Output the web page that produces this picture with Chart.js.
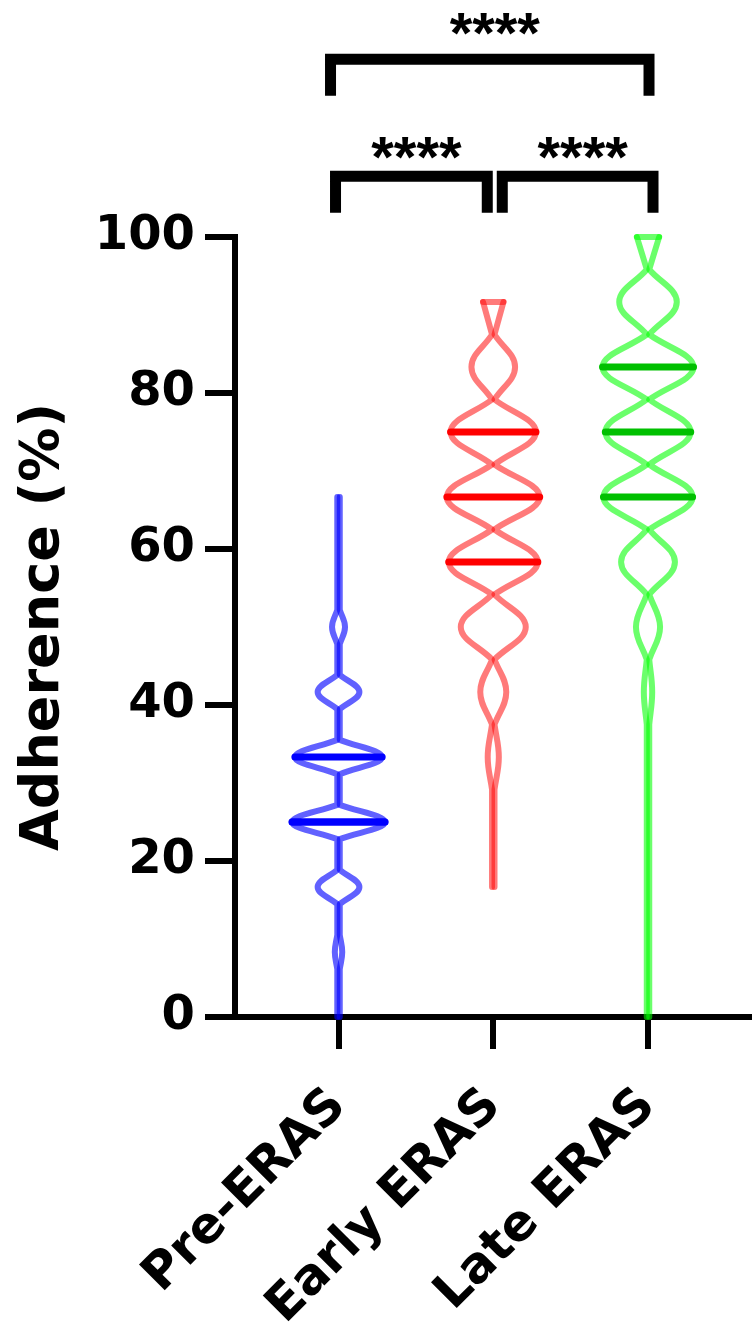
<!DOCTYPE html>
<html>
<head>
<meta charset="utf-8">
<title>Adherence violin plot</title>
<script src="https://cdn.jsdelivr.net/npm/chart.js@4"></script>
<style>
  html, body { margin: 0; padding: 0; background: #fff; }
  #wrap { width: 752px; height: 1332px; position: relative; }
</style>
</head>
<body>
<div id="wrap"><canvas id="violin"></canvas></div>
<script>
// groups on the x axis
const categories = ["Pre-ERAS", "Early ERAS", "Late ERAS"];

// adherence levels (%) where the violins have a lobe
const levels = [0, 8.33, 16.67, 25, 33.33, 41.67, 50, 58.33, 66.67, 75, 83.33, 91.67, 100];

// relative violin width at each level (1 = widest), null = outside the group's range
const preERAS   = [0, 0.08, 0.45, 1.0, 0.94, 0.45, 0.14, 0, 0, null, null, null, null];
const earlyERAS = [null, null, 0, 0.01, 0.12, 0.28, 0.70, 0.96, 1.0, 0.92, 0.47, 0.22, null];
const lateERAS  = [0, 0, 0, 0, 0, 0.09, 0.26, 0.58, 0.96, 0.92, 0.98, 0.62, 0.24];

// quartiles drawn across each violin
const q1Values     = [25, 58.33, 66.67];
const medianValues = [25, 66.67, 75];
const q3Values     = [33.33, 75, 83.33];

const yTicks = [0, 20, 40, 60, 80, 100];

// significance brackets between groups
const comparisons = [[0, 1], [1, 2], [0, 2]];
const stars = ["****", "****", "****"];
const bracketLevels = [107.8, 107.8, 122.8];
const starLevels = [112.1, 112.1, 127.9];

const groups = [preERAS, earlyERAS, lateERAS];
const outlineColors = ["rgba(0,0,255,0.62)", "rgba(255,0,0,0.52)", "rgba(0,255,0,0.58)"];
const lineColors = ["#0000ff", "#ff0000", "#00c000"];
const lobeSpan = [2.2, 4.17, 4.17];   // half height of a lobe, in %

const maxHalf = 0.3;     // half width of the widest lobe, in x units
const minHalf = 0.008;   // stem half width

Chart.defaults.font.family = "'DejaVu Sans', sans-serif";
Chart.defaults.font.weight = "bold";
Chart.defaults.color = "#000";

function halfWidth(dens, i) {
    return Math.max(dens[i] * maxHalf, minHalf);
}

// one side of a violin: lobes at the levels, pinched (doubled point -> cusp) in between
function outline(gi, side) {
    const dens = groups[gi];
    const h = lobeSpan[gi];
    const pts = [];
    const stem = gi + side * minHalf;
    let prev = null;
    levels.forEach((lv, i) => {
        if (dens[i] === null) return;
        if (prev !== null) {
            const lo = Math.min(levels[prev] + h, (levels[prev] + lv) / 2);
            const hi = Math.max(lv - h, (levels[prev] + lv) / 2);
            pts.push({ x: stem, y: lo }, { x: stem, y: lo });
            if (hi > lo) pts.push({ x: stem, y: hi }, { x: stem, y: hi });
        }
        pts.push({ x: gi + side * halfWidth(dens, i), y: lv });
        prev = i;
    });
    return pts;
}

const datasets = [];

groups.forEach((dens, gi) => {
    // quartile lines on top
    [q1Values, medianValues, q3Values].forEach(arr => {
        const v = arr[gi];
        const i = levels.findIndex(l => Math.abs(l - v) < 0.1);
        const w = halfWidth(dens, i);
        datasets.push({
            data: [{ x: gi - w, y: v }, { x: gi + w, y: v }],
            borderColor: lineColors[gi],
            borderWidth: 7,
            borderCapStyle: "round",
            order: 0
        });
    });

    [1, -1].forEach(side => {
        datasets.push({
            data: outline(gi, side),
            borderColor: outlineColors[gi],
            borderWidth: 6,
            borderCapStyle: "round",
            borderJoinStyle: "round",
            tension: 0.4,
            order: 1
        });
    });

    // flat end where the range cuts a lobe
    const used = levels.map((l, i) => i).filter(i => dens[i] !== null);
    [used[0], used[used.length - 1]].forEach(i => {
        if (dens[i] > 0) {
            const w = halfWidth(dens, i);
            datasets.push({
                data: [{ x: gi - w, y: levels[i] }, { x: gi + w, y: levels[i] }],
                borderColor: outlineColors[gi],
                borderWidth: 6,
                borderCapStyle: "round",
                order: 1
            });
        }
    });
});

datasets.forEach(ds => {
    ds.pointRadius = 0;
    ds.fill = false;
    ds.clip = false;
});

const bracketPlugin = {
    id: "brackets",
    afterDraw(chart) {
        const { ctx, scales: { x, y } } = chart;
        const nudge = [[-3, -6], [9, 5], [-8, 1]];
        ctx.save();
        ctx.strokeStyle = "#000";
        ctx.fillStyle = "#000";
        ctx.lineWidth = 11;
        ctx.lineJoin = "miter";
        ctx.lineCap = "butt";
        ctx.font = "bold 58px 'Liberation Sans'";
        ctx.textAlign = "center";
        ctx.textBaseline = "alphabetic";
        comparisons.forEach(([a, b], i) => {
            const x1 = x.getPixelForValue(a) + nudge[i][0];
            const x2 = x.getPixelForValue(b) + nudge[i][1];
            const yBar = y.getPixelForValue(bracketLevels[i]);
            const yLeg = y.getPixelForValue(bracketLevels[i] - 4.7);
            ctx.beginPath();
            ctx.moveTo(x1, yLeg);
            ctx.lineTo(x1, yBar);
            ctx.lineTo(x2, yBar);
            ctx.lineTo(x2, yLeg);
            ctx.stroke();
            const ys = y.getPixelForValue(starLevels[i]);
            ctx.fillText(stars[i], (x1 + x2) / 2 + 5, ys + 34);
        });
        ctx.restore();
    }
};

new Chart(document.getElementById("violin"), {
    type: "line",
    data: { datasets: datasets },
    options: {
        responsive: true,
        maintainAspectRatio: false,
        animation: false,
        events: [],
        layout: { padding: { top: 237, left: 0, right: 0, bottom: 0 } },
        plugins: {
            legend: { display: false },
            tooltip: { enabled: false }
        },
        scales: {
            x: {
                type: "linear",
                min: -0.669,
                max: 2.672,
                afterBuildTicks: s => { s.ticks = categories.map((c, i) => ({ value: i })); },
                afterFit: s => { s.height = 315; },
                grid: { drawOnChartArea: false, drawTicks: true, tickLength: 32, lineWidth: 6, color: "#000" },
                border: { display: true, width: 6, color: "#000" },
                ticks: {
                    autoSkip: false,
                    minRotation: 45,
                    maxRotation: 45,
                    padding: 28,
                    font: { size: 50, weight: "bold" },
                    callback: v => categories[v]
                }
            },
            y: {
                type: "linear",
                min: 0,
                max: 100,
                afterBuildTicks: s => { s.ticks = yTicks.map(v => ({ value: v })); },
                afterFit: s => { s.width = 235; },
                grid: { drawOnChartArea: false, drawTicks: true, tickLength: 30, lineWidth: 6, color: "#000" },
                border: { display: true, width: 6, color: "#000" },
                ticks: { padding: 10, font: { size: 48, weight: "bold" } },
                title: {
                    display: true,
                    text: "Adherence (%)",
                    font: { size: 54, weight: "bold" },
                    padding: { top: 12, bottom: 0 }
                }
            }
        }
    },
    plugins: [bracketPlugin]
});
</script>
</body>
</html>
